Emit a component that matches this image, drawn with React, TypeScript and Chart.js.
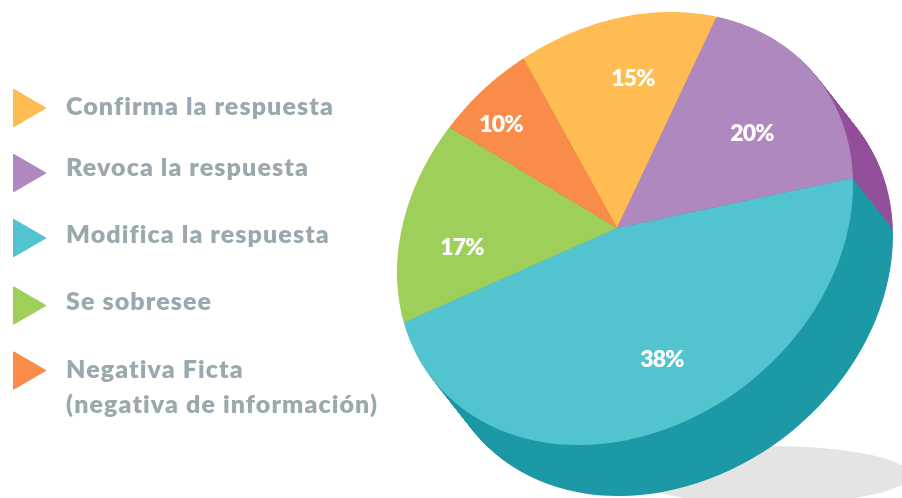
import React, { useEffect, useRef } from "react";
import { Chart, registerables } from "chart.js";

Chart.register(...registerables);

// ---- data ----
const categories = ["Confirma la respuesta", "Revoca la respuesta", "Modifica la respuesta", "Se sobresee", "Negativa Ficta"];
const legendLines = [["Confirma la respuesta"], ["Revoca la respuesta"], ["Modifica la respuesta"], ["Se sobresee"], ["Negativa Ficta", "(negativa de información)"]];
// Percentages printed on the slices
const printedPercent = [15, 20, 38, 17, 10];
// Share of the circle each slice really takes in the picture (the drawing is not proportional to its labels)
const sliceShare = [14.07, 17.51, 46.14, 15.44, 6.84];

// ---- styles ----
const topColors = ["#FEBC52", "#AE88BE", "#52C4CF", "#9FCF5B", "#F88C48"];
const sideColors = ["#D9963A", "#94509A", "#1D99A6", "#7FAE44", "#CF6F33"];
const textColor = "#9AA8AF";

// ---- layout ----
const legendIconY = [108, 173, 238, 305.5, 370.5];
const legendBaseY = [115, 176, 243, 310, 378];
const legendLineGap = 35;
const percentCenters = [[633, 79], [752, 134], [662, 360], [462, 248], [501, 125]];
const ellipseCenter = [625, 228.5];
const ellipseAxes = { a: 228, b: -43.9, d: 212 };
const apex = [617, 228];
const depth = [40, 51];
const overscan = 1.1;

const pie3d = {
  id: "pie3d",
  beforeDatasetsDraw(chart: any) {
    const { ctx } = chart;
    const meta = chart.getDatasetMeta(0);
    const R = meta.data[0].outerRadius;
    const s = overscan / R;
    const place = (dx: number, dy: number) => {
      // clip to tilted ellipse
      ctx.save();
      ctx.transform(ellipseAxes.a, ellipseAxes.b, 0, ellipseAxes.d, ellipseCenter[0] + dx, ellipseCenter[1] + dy);
      ctx.beginPath();
      ctx.arc(0, 0, 1, 0, Math.PI * 2);
      ctx.restore();
      ctx.clip();
      ctx.transform(ellipseAxes.a * s, ellipseAxes.b * s, 0, ellipseAxes.d * s, apex[0] + dx, apex[1] + dy);
      ctx.translate(-meta.data[0].x, -meta.data[0].y);
    };

    // ground shadow
    ctx.save();
    ctx.fillStyle = "#E3E4E3";
    ctx.beginPath();
    ctx.ellipse(770, 475, 140, 29, 0, 0, Math.PI * 2);
    ctx.fill();
    ctx.restore();

    // extruded side: dark copies of the library's arcs, far to near
    const steps = 64;
    for (let i = steps; i >= 1; i--) {
      ctx.save();
      place((depth[0] * i) / steps, (depth[1] * i) / steps);
      meta.data.forEach((el: any, idx: number) => {
        const saved = el.options;
        el.options = { ...saved, backgroundColor: sideColors[idx], borderWidth: 0 };
        el.draw(ctx);
        el.options = saved;
      });
      ctx.restore();
    }

    // top face is drawn by the chart itself, under this transform
    ctx.save();
    place(0, 0);
  },
  afterDatasetsDraw(chart: any) {
    chart.ctx.restore();
  },
  afterDraw(chart: any) {
    const { ctx } = chart;
    ctx.save();
    // percent labels
    ctx.fillStyle = "#FFFFFF";
    ctx.font = "800 23px Lato";
    (ctx as any).letterSpacing = "-0.8px";
    ctx.textAlign = "center";
    ctx.textBaseline = "middle";
    printedPercent.forEach((p, i) => {
      ctx.fillText(`${p}%`, percentCenters[i][0], percentCenters[i][1]);
    });
    // legend
    ctx.textAlign = "left";
    ctx.textBaseline = "alphabetic";
    ctx.font = "800 25px Lato";
    (ctx as any).letterSpacing = "1.1px";
    categories.forEach((_, i) => {
      const y = legendIconY[i];
      ctx.fillStyle = topColors[i];
      ctx.strokeStyle = topColors[i];
      ctx.lineWidth = 2;
      ctx.lineJoin = "round";
      ctx.beginPath();
      ctx.moveTo(14, y - 18);
      ctx.lineTo(45, y);
      ctx.lineTo(14, y + 18);
      ctx.closePath();
      ctx.fill();
      ctx.stroke();
      ctx.fillStyle = textColor;
      legendLines[i].forEach((line, j) => {
        ctx.fillText(line, 66, legendBaseY[i] + j * legendLineGap);
      });
    });
    ctx.restore();
  },
};

export default function App() {
  const ref = useRef<HTMLCanvasElement>(null);
  useEffect(() => {
    const chart = new Chart(ref.current as HTMLCanvasElement, {
      type: "pie",
      data: {
        labels: categories,
        datasets: [{ data: sliceShare, backgroundColor: topColors, borderWidth: 0 }],
      },
      options: {
        responsive: false,
        animation: false,
        rotation: -24.9,
        layout: { padding: 0 },
        events: [],
        plugins: { legend: { display: false }, tooltip: { enabled: false } },
      },
      plugins: [pie3d],
    } as any);
    return () => chart.destroy();
  }, []);
  return (
    <div style={{ position: "absolute", left: 0, top: 0, width: 902, height: 498, overflow: "hidden" }}>
      <canvas ref={ref} width={902} height={498} style={{ display: "block" }} />
    </div>
  );
}
